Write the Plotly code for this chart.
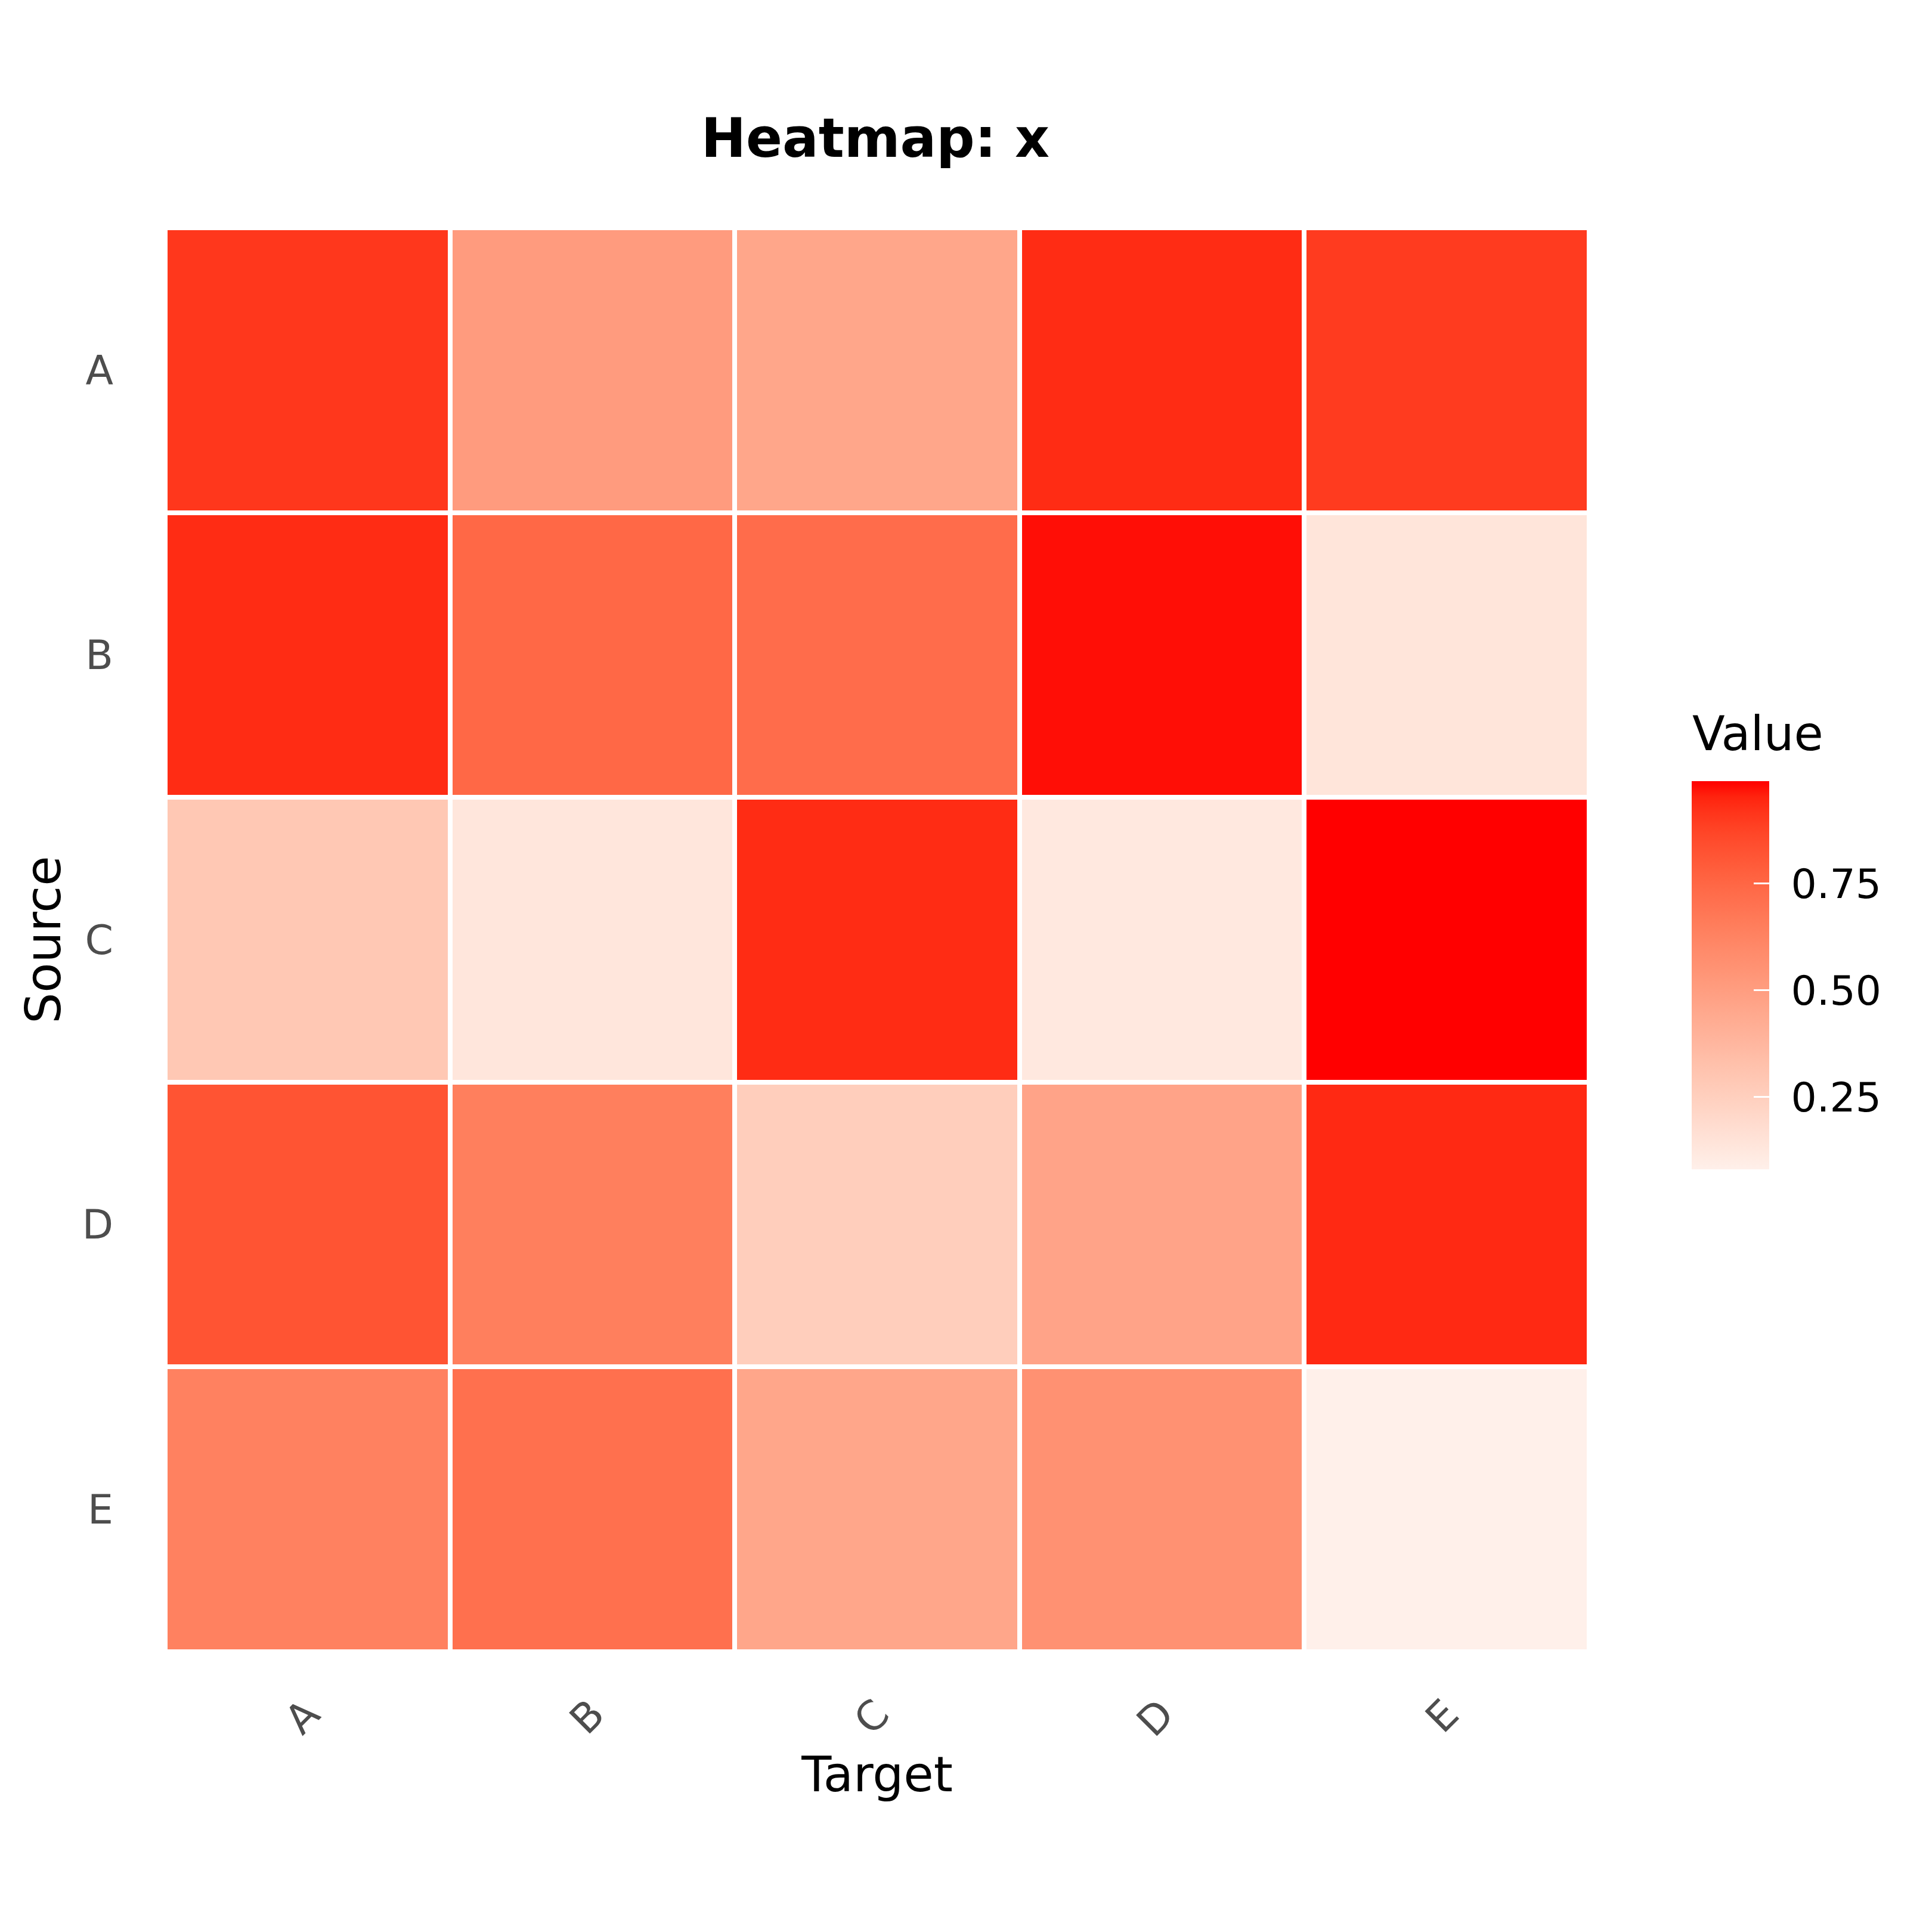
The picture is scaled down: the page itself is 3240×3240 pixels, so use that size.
import numpy as np
import plotly.graph_objects as go

# heatmap of x: rows = source, cols = target
sources = ["A", "B", "C", "D", "E"]
targets = ["A", "B", "C", "D", "E"]

row_a = [0.91, 0.51, 0.46, 0.935, 0.90]
row_b = [0.935, 0.745, 0.725, 0.975, 0.14]
row_c = [0.29, 0.135, 0.935, 0.12, 0.99]
row_d = [0.82, 0.645, 0.26, 0.47, 0.94]
row_e = [0.635, 0.71, 0.46, 0.56, 0.081]

cbar_ticks = [0.25, 0.50, 0.75]

z = [row_a, row_b, row_c, row_d, row_e]

LOW = "#FFF0EA"
HIGH = "#FF0000"


# ggplot2 interpolates gradients in Lab space, plotly in RGB -> build stops by hand
def hex_to_rgb(h):
    h = h.lstrip("#")
    return np.array([int(h[i:i + 2], 16) for i in (0, 2, 4)]) / 255.0


def to_lin(c):
    return np.where(c <= 0.04045, c / 12.92, ((c + 0.055) / 1.055) ** 2.4)


def from_lin(c):
    c = np.clip(c, 0, 1)
    return np.where(c <= 0.0031308, c * 12.92, 1.055 * c ** (1 / 2.4) - 0.055)


M = np.array([[0.4124, 0.3576, 0.1805],
              [0.2126, 0.7152, 0.0722],
              [0.0193, 0.1192, 0.9505]])
WP = np.array([0.95047, 1.0, 1.08883])


def rgb_to_lab(rgb):
    xyz = M @ to_lin(rgb) / WP
    f = np.where(xyz > 0.008856, np.cbrt(xyz), 7.787 * xyz + 16 / 116)
    return np.array([116 * f[1] - 16, 500 * (f[0] - f[1]), 200 * (f[1] - f[2])])


def lab_to_rgb(lab):
    fy = (lab[0] + 16) / 116
    fx = fy + lab[1] / 500
    fz = fy - lab[2] / 200
    f = np.array([fx, fy, fz])
    xyz = np.where(f ** 3 > 0.008856, f ** 3, (f - 16 / 116) / 7.787) * WP
    return from_lin(np.linalg.inv(M) @ xyz)


lab_lo = rgb_to_lab(hex_to_rgb(LOW))
lab_hi = rgb_to_lab(hex_to_rgb(HIGH))
colorscale = []
for t in np.linspace(0, 1, 26):
    r, g, b = (lab_to_rgb(lab_lo + (lab_hi - lab_lo) * t) * 255).round().astype(int)
    colorscale.append([float(t), f"rgb({r},{g},{b})"])

fig = go.Figure(
    go.Heatmap(
        z=z,
        x=targets,
        y=sources,
        colorscale=colorscale,
        xgap=8,
        ygap=8,
        colorbar=dict(
            thickness=130,
            thicknessmode="pixels",
            len=651,
            lenmode="pixels",
            x=1.072,
            xanchor="left",
            y=0.3388,
            yanchor="bottom",
            xpad=0,
            ypad=0,
            outlinewidth=0,
            tickvals=cbar_ticks,
            ticktext=["\u2004" + f"{v:.2f}" for v in cbar_ticks],
            ticks="inside",
            ticklen=26,
            tickwidth=3,
            tickcolor="white",
            tickfont=dict(size=68, color="#000000"),
        ),
    )
)

fig.update_layout(
    width=3240,
    height=3240,
    margin=dict(l=269, r=583, t=374, b=478),
    paper_bgcolor="white",
    plot_bgcolor="white",
    font=dict(family="DejaVu Sans", color="#000000"),
    title=dict(
        text="Heatmap: x",
        x=0.4506,
        xanchor="center",
        y=0.9309,
        yanchor="middle",
        font=dict(size=90, color="#000000", weight="bold"),
    ),
    annotations=[
        dict(
            text="Value",
            xref="paper",
            yref="paper",
            x=1.0716,
            y=0.6445,
            xanchor="left",
            yanchor="middle",
            showarrow=False,
            font=dict(size=80, color="#000000"),
        )
    ],
)
fig.update_xaxes(
    title=dict(text="Target", font=dict(size=82), standoff=20),
    tickangle=-45,
    tickfont=dict(size=68, color="#4D4D4D"),
    ticklabelstandoff=50,
    showgrid=False,
    zeroline=False,
)
fig.update_yaxes(
    title=dict(text="Source", font=dict(size=82), standoff=8),
    autorange="reversed",
    tickfont=dict(size=68, color="#4D4D4D"),
    ticklabelstandoff=86,
    showgrid=False,
    zeroline=False,
)

fig.write_html("out.html")
